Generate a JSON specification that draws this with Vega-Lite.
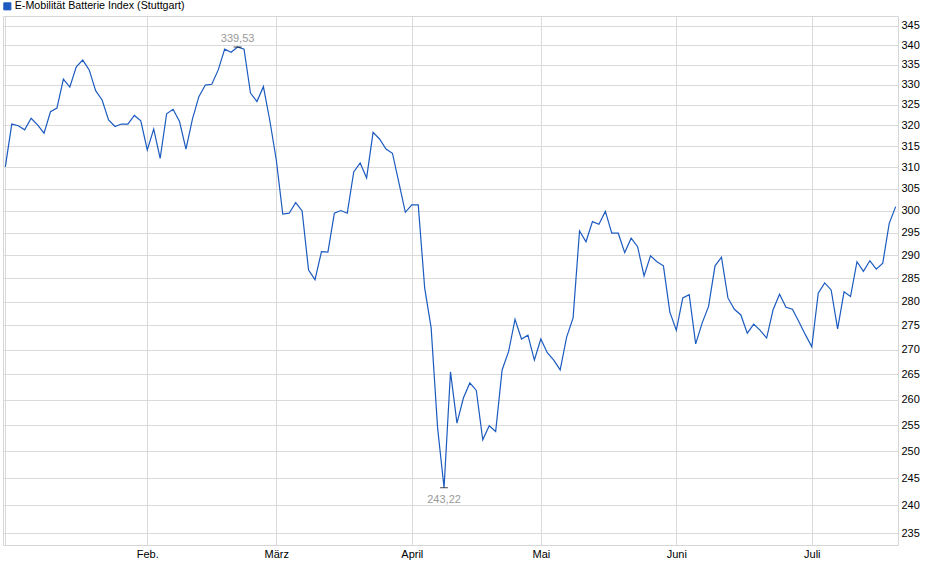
{
  "$schema": "https://vega.github.io/schema/vega-lite/v6.json",
  "width": 895,
  "height": 529,
  "autosize": {"type": "none"},
  "padding": {"left": 3, "top": 16, "right": 42, "bottom": 34},
  "background": "white",
  "config": {
    "font": "Liberation Sans",
    "view": {"stroke": "#d6d6d6"},
    "locale": {"number": {"decimal": ",", "thousands": ".", "grouping": [3], "currency": ["", " €"]}}
  },
  "data": {
    "values": [
      {"d": "2025-01-02", "v": 310.1}, {"d": "2025-01-03", "v": 320.3}, {"d": "2025-01-06", "v": 319.9},
      {"d": "2025-01-07", "v": 318.9}, {"d": "2025-01-08", "v": 321.7}, {"d": "2025-01-09", "v": 320.1},
      {"d": "2025-01-10", "v": 318.1}, {"d": "2025-01-13", "v": 323.3}, {"d": "2025-01-14", "v": 324.2},
      {"d": "2025-01-15", "v": 331.4}, {"d": "2025-01-16", "v": 329.4}, {"d": "2025-01-17", "v": 334.5},
      {"d": "2025-01-20", "v": 336.2}, {"d": "2025-01-21", "v": 333.7}, {"d": "2025-01-22", "v": 328.5},
      {"d": "2025-01-23", "v": 326.2}, {"d": "2025-01-24", "v": 321.3}, {"d": "2025-01-27", "v": 319.7},
      {"d": "2025-01-28", "v": 320.3}, {"d": "2025-01-29", "v": 320.3}, {"d": "2025-01-30", "v": 322.4},
      {"d": "2025-01-31", "v": 321.1},
      {"d": "2025-02-03", "v": 314.1}, {"d": "2025-02-04", "v": 319.1}, {"d": "2025-02-05", "v": 312.1},
      {"d": "2025-02-06", "v": 322.8}, {"d": "2025-02-07", "v": 323.9}, {"d": "2025-02-10", "v": 320.9},
      {"d": "2025-02-11", "v": 314.3}, {"d": "2025-02-12", "v": 321.5}, {"d": "2025-02-13", "v": 327.0},
      {"d": "2025-02-14", "v": 329.9}, {"d": "2025-02-17", "v": 330.1}, {"d": "2025-02-18", "v": 333.7},
      {"d": "2025-02-19", "v": 339.0}, {"d": "2025-02-20", "v": 338.2}, {"d": "2025-02-21", "v": 339.53},
      {"d": "2025-02-24", "v": 339.0}, {"d": "2025-02-25", "v": 327.9}, {"d": "2025-02-26", "v": 325.8},
      {"d": "2025-02-27", "v": 329.5}, {"d": "2025-02-28", "v": 321.1},
      {"d": "2025-03-03", "v": 311.7}, {"d": "2025-03-04", "v": 299.2}, {"d": "2025-03-05", "v": 299.4},
      {"d": "2025-03-06", "v": 301.8}, {"d": "2025-03-07", "v": 299.9}, {"d": "2025-03-10", "v": 286.8},
      {"d": "2025-03-11", "v": 284.7}, {"d": "2025-03-12", "v": 290.8}, {"d": "2025-03-13", "v": 290.7},
      {"d": "2025-03-14", "v": 299.4}, {"d": "2025-03-17", "v": 300.0}, {"d": "2025-03-18", "v": 299.4},
      {"d": "2025-03-19", "v": 308.9}, {"d": "2025-03-20", "v": 311.0}, {"d": "2025-03-21", "v": 307.5},
      {"d": "2025-03-24", "v": 318.3}, {"d": "2025-03-25", "v": 316.7}, {"d": "2025-03-26", "v": 314.3},
      {"d": "2025-03-27", "v": 313.3}, {"d": "2025-03-28", "v": 306.4}, {"d": "2025-03-31", "v": 299.6},
      {"d": "2025-04-01", "v": 301.3}, {"d": "2025-04-02", "v": 301.3}, {"d": "2025-04-03", "v": 282.9},
      {"d": "2025-04-04", "v": 274.5}, {"d": "2025-04-07", "v": 254.5}, {"d": "2025-04-08", "v": 243.22},
      {"d": "2025-04-09", "v": 265.5}, {"d": "2025-04-10", "v": 255.4}, {"d": "2025-04-11", "v": 260.3},
      {"d": "2025-04-14", "v": 263.3}, {"d": "2025-04-15", "v": 261.8}, {"d": "2025-04-16", "v": 252.2},
      {"d": "2025-04-17", "v": 254.9}, {"d": "2025-04-22", "v": 253.8}, {"d": "2025-04-23", "v": 265.9},
      {"d": "2025-04-24", "v": 269.6}, {"d": "2025-04-25", "v": 276.3}, {"d": "2025-04-28", "v": 272.2},
      {"d": "2025-04-29", "v": 273.0}, {"d": "2025-04-30", "v": 267.9},
      {"d": "2025-05-02", "v": 272.2}, {"d": "2025-05-05", "v": 269.4}, {"d": "2025-05-06", "v": 267.9},
      {"d": "2025-05-07", "v": 265.9}, {"d": "2025-05-08", "v": 272.6}, {"d": "2025-05-09", "v": 276.6},
      {"d": "2025-05-12", "v": 295.4}, {"d": "2025-05-13", "v": 293.0}, {"d": "2025-05-14", "v": 297.5},
      {"d": "2025-05-15", "v": 296.9}, {"d": "2025-05-16", "v": 299.8}, {"d": "2025-05-19", "v": 294.9},
      {"d": "2025-05-20", "v": 294.9}, {"d": "2025-05-21", "v": 290.6}, {"d": "2025-05-22", "v": 293.8},
      {"d": "2025-05-23", "v": 291.9}, {"d": "2025-05-26", "v": 285.5}, {"d": "2025-05-27", "v": 289.9},
      {"d": "2025-05-28", "v": 288.6}, {"d": "2025-05-29", "v": 287.7}, {"d": "2025-05-30", "v": 277.8},
      {"d": "2025-06-02", "v": 274.0}, {"d": "2025-06-03", "v": 280.8}, {"d": "2025-06-04", "v": 281.5},
      {"d": "2025-06-05", "v": 271.2}, {"d": "2025-06-06", "v": 275.5}, {"d": "2025-06-09", "v": 279.0},
      {"d": "2025-06-10", "v": 287.7}, {"d": "2025-06-11", "v": 289.6}, {"d": "2025-06-12", "v": 280.8},
      {"d": "2025-06-13", "v": 278.4}, {"d": "2025-06-16", "v": 277.2}, {"d": "2025-06-17", "v": 273.4},
      {"d": "2025-06-18", "v": 275.3}, {"d": "2025-06-19", "v": 274.0}, {"d": "2025-06-20", "v": 272.4},
      {"d": "2025-06-23", "v": 278.3}, {"d": "2025-06-24", "v": 281.6}, {"d": "2025-06-25", "v": 278.8},
      {"d": "2025-06-26", "v": 278.4}, {"d": "2025-06-27", "v": 275.8}, {"d": "2025-06-30", "v": 273.1},
      {"d": "2025-07-01", "v": 270.6}, {"d": "2025-07-02", "v": 281.8}, {"d": "2025-07-03", "v": 284.0},
      {"d": "2025-07-04", "v": 282.5}, {"d": "2025-07-07", "v": 274.3}, {"d": "2025-07-08", "v": 282.1},
      {"d": "2025-07-09", "v": 281.1}, {"d": "2025-07-10", "v": 288.6}, {"d": "2025-07-11", "v": 286.5},
      {"d": "2025-07-14", "v": 288.8}, {"d": "2025-07-15", "v": 287.0}, {"d": "2025-07-16", "v": 288.3},
      {"d": "2025-07-17", "v": 297.1}, {"d": "2025-07-18", "v": 300.9}
    ]
  },
  "encoding": {
    "x": {
      "field": "d",
      "type": "ordinal",
      "scale": {"type": "point", "padding": 0.36},
      "axis": {
        "title": null,
        "orient": "bottom",
        "values": ["2025-01-02", "2025-02-03", "2025-03-03", "2025-04-01", "2025-05-02", "2025-06-02", "2025-07-01"],
        "labelExpr": "['', 'Feb.', 'März', 'April', 'Mai', 'Juni', 'Juli'][toNumber(substring(datum.value, 5, 7)) - 1]",
        "labelAngle": 0,
        "labelFontSize": 11,
        "labelColor": "#000000",
        "labelPadding": 3,
        "ticks": false,
        "domain": false,
        "grid": true,
        "gridColor": "#dadada"
      }
    },
    "y": {
      "field": "v",
      "type": "quantitative",
      "scale": {"type": "log", "domain": [232.9, 347.6], "nice": false, "zero": false},
      "axis": {
        "title": null,
        "orient": "right",
        "values": [235, 240, 245, 250, 255, 260, 265, 270, 275, 280, 285, 290, 295, 300, 305, 310, 315, 320, 325, 330, 335, 340, 345],
        "format": "d",
        "labelFontSize": 11,
        "labelColor": "#000000",
        "labelPadding": 3,
        "ticks": false,
        "domain": false,
        "grid": true,
        "gridColor": "#dadada"
      }
    }
  },
  "layer": [
    {
      "mark": {"type": "line", "strokeWidth": 1.2},
      "encoding": {
        "color": {
          "datum": "E-Mobilität Batterie Index (Stuttgart)",
          "scale": {"range": ["#1c5bbf"]},
          "legend": {
            "title": null,
            "orient": "none",
            "legendX": -1,
            "legendY": -15,
            "padding": 0,
            "symbolType": "square",
            "symbolSize": 50,
            "labelFontSize": 10.7,
            "labelColor": "#000000",
            "labelOffset": 2,
            "labelLimit": 400,
            "encode": {
              "symbols": {
                "update": {
                  "fill": {"value": "#1c5bbf"},
                  "stroke": {"value": "#0d2f6e"},
                  "strokeWidth": {"value": 1}
                }
              }
            }
          }
        }
      }
    },
    {
      "transform": [{"filter": "datum.d == '2025-02-21' || datum.d == '2025-04-08'"}],
      "mark": {"type": "tick", "color": "#000000", "size": 8, "thickness": 1}
    },
    {
      "transform": [{"filter": "datum.d == '2025-02-21'"}],
      "mark": {"type": "text", "color": "#9a9a9a", "fontSize": 11, "baseline": "alphabetic", "dy": -5},
      "encoding": {"text": {"field": "v", "type": "quantitative", "format": ".2f"}}
    },
    {
      "transform": [{"filter": "datum.d == '2025-04-08'"}],
      "mark": {"type": "text", "color": "#9a9a9a", "fontSize": 11, "baseline": "alphabetic", "dy": 15},
      "encoding": {"text": {"field": "v", "type": "quantitative", "format": ".2f"}}
    }
  ]
}
